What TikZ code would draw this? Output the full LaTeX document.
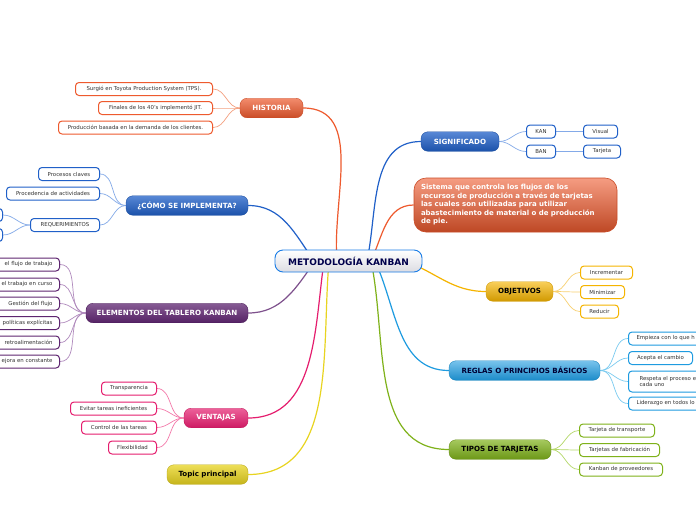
\documentclass[tikz,border=0pt]{standalone}
\usepackage{fontspec}
\setmainfont{DejaVu Sans}
\usetikzlibrary{backgrounds}
\definecolor{hOr}{HTML}{EE5A2E}
\definecolor{hOrL}{HTML}{F4A080}
\definecolor{hBl}{HTML}{2060C8}
\definecolor{hBlL}{HTML}{84AAE8}
\definecolor{hPu}{HTML}{5E2570}
\definecolor{hPuL}{HTML}{B08ABD}
\definecolor{hPk}{HTML}{E51D6E}
\definecolor{hPkL}{HTML}{F37AAA}
\definecolor{hYe}{HTML}{E8D420}
\definecolor{hGo}{HTML}{F5B400}
\definecolor{hGoL}{HTML}{F8D070}
\definecolor{hCy}{HTML}{1E9BE0}
\definecolor{hCyL}{HTML}{7ACBF0}
\definecolor{hGr}{HTML}{7FB21A}
\definecolor{hGrL}{HTML}{B5D86A}
\definecolor{txt}{HTML}{333333}
\begin{document}
\begin{tikzpicture}[x=1pt,y=-1pt,
  child/.style={draw, fill=white, rounded corners=3.5pt, line width=1pt,
    font=\fontsize{5.4}{6.4}\selectfont, text=txt, inner xsep=3pt, inner ysep=0pt,
    minimum height=13pt},
  mainn/.style={rounded corners=7pt, minimum height=19.5pt, inner sep=0pt,
    font=\bfseries\fontsize{7.1}{8}\selectfont, text=white},
  link/.style={line width=1.2pt},
  sub/.style={line width=0.7pt}]
\useasboundingbox (0,0) rectangle (696,520);
\clip (0,0) rectangle (696,520);

% central
\node[rounded corners=8pt, draw=hCy!80!blue, line width=0.9pt, top color=white, bottom color=blue!10!gray!25,
  minimum width=147pt, minimum height=22pt, inner sep=0pt, text=blue!30!black,
  font=\bfseries\fontsize{9}{10}\selectfont] (c) at (348.5,261) {METODOLOGÍA KANBAN};
\coordinate (sH) at (337,261);
\coordinate (sC) at (314,261);
\coordinate (sE) at (315,261);
\coordinate (sV) at (324,261);
\coordinate (sT) at (329,261);
\coordinate (sS) at (367,261);
\coordinate (sX) at (371,261);
\coordinate (sO) at (405,261);
\coordinate (sR) at (375,261);
\coordinate (sK) at (371,261);

% main nodes
\node[mainn, minimum width=63pt, top color=hOr!70!white, bottom color=hOr!85!black, draw=hOr!85!black] (hist) at (271.5,108) {HISTORIA};
\node[mainn, minimum width=122pt, top color=hBl!75!white, bottom color=hBl!85!black, draw=hBl!80!black] (como) at (187,205.5) {¿CÓMO SE IMPLEMENTA?};
\node[mainn, minimum width=162pt, top color=hPu!75!white, bottom color=hPu!90!black, draw=hPu!80!black] (elem) at (167,313) {ELEMENTOS DEL TABLERO KANBAN};
\node[mainn, minimum width=64pt, top color=hPk!70!white, bottom color=hPk!90!black, draw=hPk!85!black] (vent) at (216,418) {VENTAJAS};
\node[mainn, minimum width=81pt, top color=hYe!75!white, bottom color=hYe!85!black, draw=hYe!80!black, text=black] (topic) at (207.5,474.5) {Topic principal};
\node[mainn, minimum width=78pt, top color=hBl!75!white, bottom color=hBl!85!black, draw=hBl!80!black] (sig) at (460,141.5) {SIGNIFICADO};
\node[mainn, minimum width=67pt, top color=hGo!65!white, bottom color=hGo!85!black, draw=hGo!85!black, text=black] (obj) at (519.5,291.5) {OBJETIVOS};
\node[mainn, minimum width=151pt, top color=hCy!60!white, bottom color=hCy!90!black, draw=hCy!85!black, text=blue!20!black] (reg) at (524.5,370.5) {REGLAS O PRINCIPIOS BÁSICOS};
\node[mainn, minimum width=102pt, top color=hGr!70!white, bottom color=hGr!85!black, draw=hGr!80!black, text=black] (tip) at (500,449.5) {TIPOS DE TARJETAS};

% sistema
\node[rounded corners=12pt, top color=hOr!60!white, bottom color=hOr!80!black, draw=hOr!85!black, line width=0.6pt,
  minimum width=203pt, minimum height=54pt, text width=189pt, align=left, inner xsep=7pt, inner ysep=0pt,
  text=white, font=\bfseries\fontsize{7}{8.5}\selectfont] (sis) at (515.5,205)
  {Sistema que controla los flujos de los\\recursos de producción a través de tarjetas\\las cuales son utilizadas para utilizar\\abastecimiento de material o de producción\\de pie.};

% historia children
\node[child, draw=hOr, minimum width=137pt, anchor=east] (h1) at (213,89) {Surgió en Toyota Production System (TPS).};
\node[child, draw=hOr, minimum width=114pt, anchor=east] (h2) at (213,108) {Finales de los 40's implementó JIT.};
\node[child, draw=hOr, minimum width=154pt, anchor=east] (h3) at (213,127.5) {Producción basada en la demanda de los clientes.};

% como children
\node[child, draw=hBl, minimum width=61pt, anchor=east] (c1) at (100,174) {Procesos claves};
\node[child, draw=hBl, minimum width=93pt, anchor=east] (c2) at (100,193.5) {Procedencia de actividades};
\node[child, draw=hBl, minimum width=69pt, anchor=east] (c3) at (100,225) {REQUERIMIENTOS};
\node[child, draw=hBl, minimum width=40pt, anchor=east] (r1) at (3,215) {};
\node[child, draw=hBl, minimum width=40pt, anchor=east] (r2) at (3,235) {};

% elementos children
\begin{scope}[every node/.append style={child, draw=hPu, text width=75pt, align=right, anchor=east, inner xsep=7pt}]
\node (e1) at (60,264.5) {el flujo de trabajo};
\node (e2) at (60,284.5) {el trabajo en curso};
\node (e3) at (60,303.5) {Gestión del flujo};
\node (e4) at (60,323) {políticas explícitas};
\node (e5) at (60,342.5) {retroalimentación};
\node (e6) at (60,361.5) {ejora en constante};
\end{scope}

% ventajas children
\node[child, draw=hPk, minimum width=55pt, anchor=east] (v1) at (157,388.5) {Transparencia};
\node[child, draw=hPk, minimum width=86pt, anchor=east] (v2) at (157,408.5) {Evitar tareas ineficientes};
\node[child, draw=hPk, minimum width=75pt, anchor=east] (v3) at (157,427.5) {Control de las tareas};
\node[child, draw=hPk, minimum width=48pt, anchor=east] (v4) at (157,447.5) {Flexibilidad};

% significado children
\node[child, draw=hBl, minimum width=29pt, anchor=west] (kan) at (526,131.5) {KAN};
\node[child, draw=hBl, minimum width=29pt, anchor=west] (ban) at (526,151.5) {BAN};
\node[child, draw=hBl, minimum width=34pt, anchor=west] (vis) at (583,131.5) {Visual};
\node[child, draw=hBl, minimum width=37pt, anchor=west] (tar) at (583,151.5) {Tarjeta};

% objetivos children
\node[child, draw=hGo, minimum width=52pt, anchor=west] (o1) at (580,272.5) {Incrementar};
\node[child, draw=hGo, minimum width=44pt, anchor=west] (o2) at (580,292) {Minimizar};
\node[child, draw=hGo, minimum width=38pt, anchor=west] (o3) at (580,311.5) {Reducir};

% reglas children
\node[child, draw=hCy, text width=90pt, align=left, anchor=west, inner xsep=8pt] (g1) at (628,338.5) {Empieza con lo que h};
\node[child, draw=hCy, minimum width=64pt, anchor=west] (g2) at (628,358) {Acepta el cambio};
\node[child, draw=hCy, text width=90pt, align=left, anchor=west, inner xsep=11pt, minimum height=21pt] (g3) at (628,381.5) {Respeta el proceso e\\cada uno};
\node[child, draw=hCy, text width=90pt, align=left, anchor=west, inner xsep=8pt] (g4) at (628,403.5) {Liderazgo en todos lo};

% tipos children
\node[child, draw=hGr, minimum width=75pt, anchor=west] (t1) at (579,430.5) {Tarjeta de transporte};
\node[child, draw=hGr, minimum width=80pt, anchor=west] (t2) at (579,450) {Tarjetas de fabricación};
\node[child, draw=hGr, minimum width=83pt, anchor=west] (t3) at (579,469.5) {Kanban de proveedores};

\begin{scope}[on background layer]
\fill[white] (0,0) rectangle (696,520);
% main links
\draw[link, color=hOr] (sH) to[out=95,in=0] (hist.east);
\draw[link, color=hBl] (sC) to[out=125,in=0] (como.east);
\draw[link, color=hPu!80!white] (sE) to[out=235,in=0] (elem.east);
\draw[link, color=hPk] (sV) to[out=262,in=0] (vent.east);
\draw[link, color=hYe] (sT) to[out=265,in=0] (topic.east);
\draw[link, color=hBl] (sS) to[out=78,in=180] (sig.west);
\draw[link, color=hOr] (sX) to[out=65,in=180] (sis.west);
\draw[link, color=hGo] (sO) to[out=-20,in=180] (obj.west);
\draw[link, color=hCy] (sR) to[out=-65,in=180] (reg.west);
\draw[link, color=hGr] (sK) to[out=-78,in=180] (tip.west);
% sub links
\foreach \n in {h1,h2,h3} \draw[sub, hOrL] (\n.east) to[out=0,in=180] (hist.west);
\foreach \n in {c1,c2,c3} \draw[sub, hBlL] (\n.east) to[out=0,in=180] (como.west);
\foreach \n in {r1,r2} \draw[sub, hBlL] (\n.east) to[out=0,in=180] (c3.west);
\foreach \n in {e1,e2,e3,e4,e5,e6} \draw[sub, hPuL] (\n.east) to[out=0,in=180] (elem.west);
\foreach \n in {v1,v2,v3,v4} \draw[sub, hPkL] (\n.east) to[out=0,in=180] (vent.west);
\foreach \n in {kan,ban} \draw[sub, hBlL] (sig.east) to[out=0,in=180] (\n.west);
\draw[sub, hBlL] (kan.east) -- (vis.west);
\draw[line width=1.4pt, hBlL] (ban.east) -- (tar.west);
\foreach \n in {o1,o2,o3} \draw[sub, hGoL] (obj.east) to[out=0,in=180] (\n.west);
\foreach \n in {g1,g2,g3,g4} \draw[sub, hCyL] (reg.east) to[out=0,in=180] (\n.west);
\foreach \n in {t1,t2,t3} \draw[sub, hGrL] (tip.east) to[out=0,in=180] (\n.west);
\end{scope}
\end{tikzpicture}
\end{document}
